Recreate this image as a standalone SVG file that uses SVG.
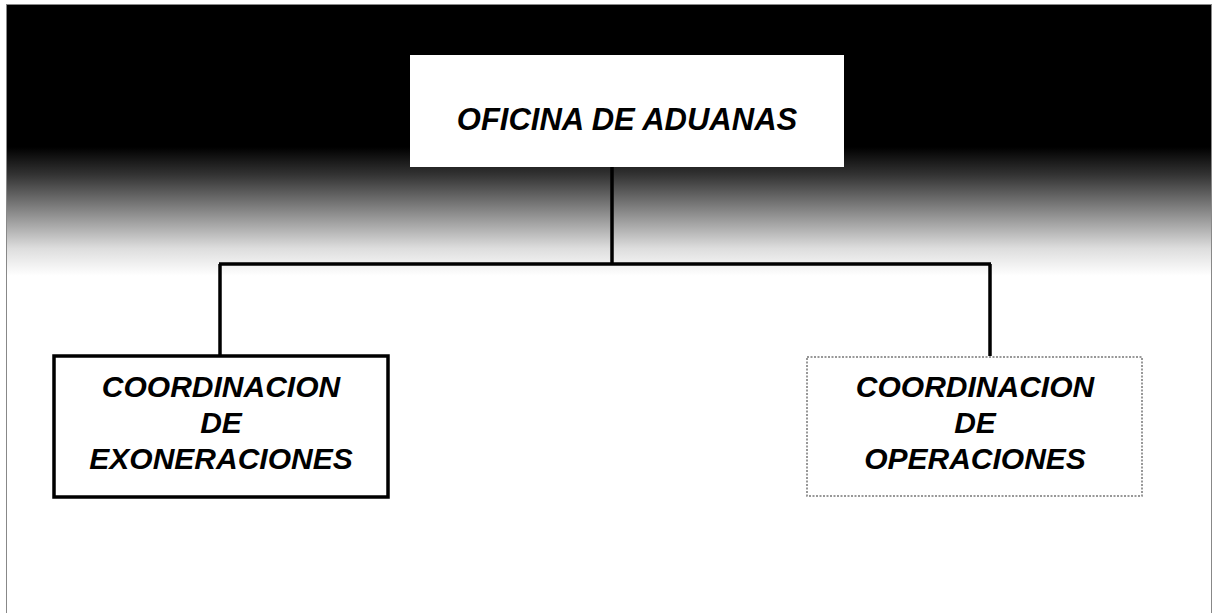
<svg xmlns="http://www.w3.org/2000/svg" width="1213" height="613" viewBox="0 0 1213 613">
<defs>
<linearGradient id="bg" x1="0" y1="0" x2="0" y2="613" gradientUnits="userSpaceOnUse">
<stop offset="0" stop-color="#000"/>
<stop offset="0.24" stop-color="#000"/>
<stop offset="0.285" stop-color="#333"/>
<stop offset="0.345" stop-color="#888"/>
<stop offset="0.405" stop-color="#ddd"/>
<stop offset="0.45" stop-color="#fff"/>
<stop offset="1" stop-color="#fff"/>
</linearGradient>
<style>
.lbl{font-family:"Liberation Sans",Arial,sans-serif;font-weight:bold;font-style:italic;fill:#000;text-anchor:middle}
.conn{stroke:#000;stroke-width:3.5;fill:none}
</style>
</defs>
<rect x="0" y="0" width="1213" height="613" fill="#fff"/>
<rect x="6" y="4" width="1206" height="609" fill="url(#bg)"/>
<path d="M6.5 4 V613 M1211.5 4 V613 M6 4.5 H1212" stroke="#888" stroke-width="1" fill="none"/>
<g id="connectors">
<path class="conn" d="M612 167 V264"/>
<path class="conn" d="M219 264 H991"/>
<path class="conn" d="M220 264 V356"/>
<path class="conn" d="M990 264 V356"/>
</g>
<g id="oficina">
<rect x="410" y="55" width="434" height="112" fill="#fff"/>
<text class="lbl" x="627" y="130" font-size="31">OFICINA DE ADUANAS</text>
</g>
<g id="exoneraciones">
<rect x="54" y="356" width="334" height="141" fill="#fff" stroke="#000" stroke-width="3.5"/>
<text class="lbl" x="221" y="397" font-size="30">COORDINACION</text>
<text class="lbl" x="221" y="433" font-size="30">DE</text>
<text class="lbl" x="221" y="469" font-size="30">EXONERACIONES</text>
</g>
<g id="operaciones">
<rect x="807" y="357" width="335" height="139" fill="#fff" stroke="#777" stroke-width="1.5" stroke-dasharray="2 1.5"/>
<text class="lbl" x="975" y="397" font-size="30">COORDINACION</text>
<text class="lbl" x="975" y="433" font-size="30">DE</text>
<text class="lbl" x="975" y="469" font-size="30">OPERACIONES</text>
</g>
</svg>
